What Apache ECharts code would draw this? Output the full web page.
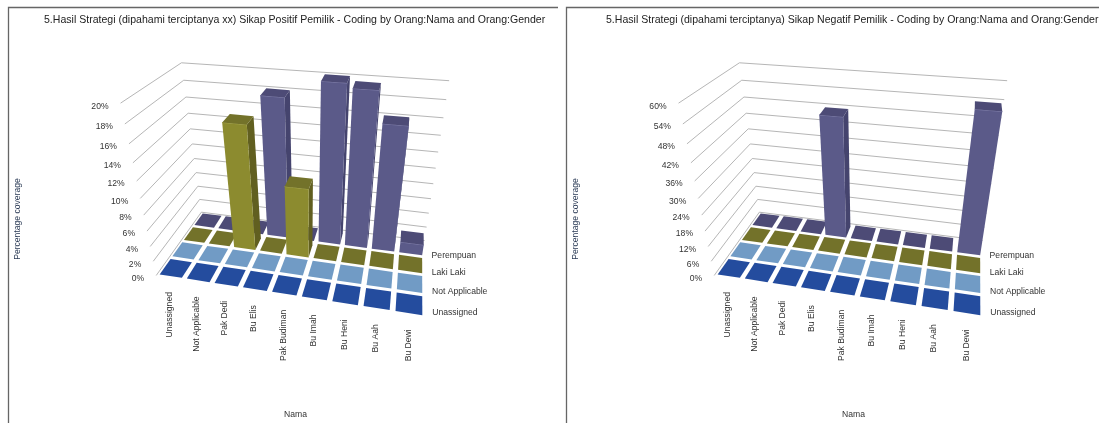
<!DOCTYPE html>
<html>
<head>
<meta charset="utf-8">
<style>html,body{margin:0;padding:0;background:#fff}#chart{width:1099px;height:423px}</style>
<script src="https://cdn.jsdelivr.net/npm/echarts@6/dist/echarts.min.js"></script>
</head>
<body>
<div id="chart"></div>
<script>
// Category and row names
const categories = ['Unassigned','Not Applicable','Pak Dedi','Bu Elis','Pak Budiman','Bu Imah','Bu Heni','Bu Aah','Bu Dewi'];
const rowNames = ['Unassigned','Not Applicable','Laki Laki','Perempuan'];

// Percentage coverage, Sikap Positif
const positiveUnassigned = [0,0,0,0,0,0,0,0,0];
const positiveNotApplicable = [0,0,0,0,0,0,0,0,0];
const positiveLakiLaki = [0,0,16,0,9.2,0,0,0,0];
const positivePerempuan = [0,0,0,18,0,20,19.5,16,1.5];

// Percentage coverage, Sikap Negatif
const negativeUnassigned = [0,0,0,0,0,0,0,0,0];
const negativeNotApplicable = [0,0,0,0,0,0,0,0,0];
const negativeLakiLaki = [0,0,0,0,0,0,0,0,0];
const negativePerempuan = [0,0,0,47.5,0,0,0,0,53.5];

// Value axis ticks
const positiveTicks = [0,2,4,6,8,10,12,14,16,18,20];
const negativeTicks = [0,6,12,18,24,30,36,42,48,54,60];

const titlePositive = '5.Hasil Strategi (dipahami terciptanya xx) Sikap Positif Pemilik - Coding by Orang:Nama and Orang:Gender';
const titleNegative = '5.Hasil Strategi (dipahami terciptanya) Sikap Negatif Pemilik - Coding by Orang:Nama and Orang:Gender';

// Box corners (category, depth, height) and where the camera places them on screen
const cameraAnchors = [
  [0,0,0, 156.5,275.5],[1,0,0, 425.5,317],[0,1,0, 201,212],[1,1,0, 424.5,241],
  [0,0,1, 120,103.5],[0,1,1, 182,62.7],[1,1,1, 449,80.5]
];

// Least-squares fit of a projective camera to the anchors
function fitCamera(pts){
  const rows=[],rhs=[];
  pts.forEach(([u,v,h,x0,y0])=>{
    const x=x0/100,y=y0/100;
    rows.push([u,v,h,1,0,0,0,0,-x*u,-x*v,-x*h]);rhs.push(x);
    rows.push([0,0,0,0,u,v,h,1,-y*u,-y*v,-y*h]);rhs.push(y);
  });
  const n=11,M=[];
  for(let i=0;i<n;i++){
    const r=new Array(n+1).fill(0);
    rows.forEach((row,k)=>{for(let j=0;j<n;j++)r[j]+=row[i]*row[j];r[n]+=row[i]*rhs[k];});
    M.push(r);
  }
  for(let i=0;i<n;i++){
    let p=i;
    for(let k=i+1;k<n;k++)if(Math.abs(M[k][i])>Math.abs(M[p][i]))p=k;
    [M[i],M[p]]=[M[p],M[i]];
    for(let k=0;k<n;k++){
      if(k===i)continue;
      const f=M[k][i]/M[i][i];
      for(let j=i;j<=n;j++)M[k][j]-=f*M[i][j];
    }
  }
  return M.map((r,i)=>r[n]/r[i]);
}
const cam=fitCamera(cameraAnchors);
function project(dx,u,v,h){
  const w=cam[8]*u+cam[9]*v+cam[10]*h+1;
  return [100*(cam[0]*u+cam[1]*v+cam[2]*h+cam[3])/w+dx,100*(cam[4]*u+cam[5]*v+cam[6]*h+cam[7])/w];
}

const FONT='"Liberation Sans", Arial, sans-serif';
const TEXT_COLOR='#333';
const LABEL_SIZE=8.6;
const CELL_FILL=0.82, ROW_FILL=0.85, BAR_DEPTH=0.85;
const rowColors=[
  {top:'#244c9e',front:'#2a55ab',side:'#1c3c7e',edge:'#4a72c0'},
  {top:'#719bc5',front:'#7ea6cd',side:'#5b82a8',edge:'#9dbddb'},
  {top:'#73722a',front:'#8c8b2f',side:'#615f20',edge:'#a5a448'},
  {top:'#4d4b76',front:'#5b5a89',side:'#45446e',edge:'#7c7ba8'}
];

function normalised(api,params,idx,val){
  const cs=params.coordSys,c=api.coord([idx,val]);
  return {u:(c[0]-cs.x)/cs.width,h:(cs.y+cs.height-c[1])/cs.height};
}
const poly=(points,fill)=>({type:'polygon',shape:{points},style:{fill,stroke:null},silent:true});

// One bar (or a flat cell when the value is zero) on the floor grid
function barRenderer(dx,row){
  return function(params,api){
    const idx=api.value(0),val=api.value(1);
    const {u,h}=normalised(api,params,idx,val);
    const half=api.size([1,0])[0]/params.coordSys.width*CELL_FILL/2;
    const v0=(row+(1-ROW_FILL)/2)/rowNames.length,cellBack=(row+1-(1-ROW_FILL)/2)/rowNames.length;
    const v1=val>0?v0+(cellBack-v0)*BAR_DEPTH:cellBack;
    const l=u-half,r=u+half,c=rowColors[row];
    const p=(a,b,z)=>project(dx,a,b,z);
    const children=[];
    if(val>0){
      const fl0=p(l,v0,0),fr0=p(r,v0,0),bl0=p(l,v1,0),br0=p(r,v1,0);
      const flh=p(l,v0,h),frh=p(r,v0,h),blh=p(l,v1,h),brh=p(r,v1,h);
      if(brh[0]>frh[0])children.push(poly([fr0,br0,brh,frh],c.side));
      if(blh[0]<flh[0])children.push(poly([fl0,bl0,blh,flh],c.side));
      children.push(poly([fl0,fr0,frh,flh],c.front));
      children.push({type:'polyline',shape:{points:[flh,frh]},style:{stroke:c.edge,lineWidth:1,fill:null},silent:true});
    }
    children.push(poly([p(l,v0,h),p(r,v0,h),p(r,v1,h),p(l,v1,h)],c.top));
    return {type:'group',children};
  };
}

// Wall gridline and percentage label for one tick
function wallRenderer(dx){
  return function(params,api){
    const {h}=normalised(api,params,0,api.value(1));
    const a=project(dx,0,0,h),b=project(dx,0,1,h),c=project(dx,1,1,h);
    return {type:'group',children:[
      {type:'polyline',shape:{points:[a,b,c]},style:{stroke:'#b6b6b6',lineWidth:1,fill:null},silent:true},
      {type:'text',x:a[0]-12,y:a[1]+3,silent:true,style:{text:api.value(1)+'%',align:'right',verticalAlign:'middle',fontSize:LABEL_SIZE,fontFamily:FONT,fill:TEXT_COLOR}}
    ]};
  };
}

// Upright name under each column
function categoryLabelRenderer(dx){
  return function(params,api){
    const idx=api.value(0);
    const {u}=normalised(api,params,idx,0);
    const a=project(dx,u,0,0);
    return {type:'text',x:a[0]-0.5,y:a[1]+14.5,rotation:Math.PI/2,silent:true,
      style:{text:categories[idx],align:'right',verticalAlign:'middle',fontSize:LABEL_SIZE,fontFamily:FONT,fill:TEXT_COLOR}};
  };
}

// Row name at the right end of the floor
function rowLabelRenderer(dx){
  return function(params,api){
    const row=params.dataIndex;
    const a=project(dx,1,(row+0.5)/rowNames.length,0);
    return {type:'text',x:a[0]+7,y:a[1]+7,silent:true,
      style:{text:rowNames[row],align:'left',verticalAlign:'middle',fontSize:LABEL_SIZE,fontFamily:FONT,fill:TEXT_COLOR}};
  };
}

const panels=[
  {dx:0,max:20,ticks:positiveTicks,rows:[positiveUnassigned,positiveNotApplicable,positiveLakiLaki,positivePerempuan]},
  {dx:558,max:60,ticks:negativeTicks,rows:[negativeUnassigned,negativeNotApplicable,negativeLakiLaki,negativePerempuan]}
];

const grid=[],xAxis=[],yAxis=[],series=[];
panels.forEach((pn,k)=>{
  grid.push({left:20+pn.dx,top:40,width:500,height:340,show:false});
  xAxis.push({type:'category',gridIndex:k,data:categories,show:false});
  yAxis.push({type:'value',gridIndex:k,min:0,max:pn.max,interval:pn.max/10,show:false});
  const base={type:'custom',xAxisIndex:k,yAxisIndex:k,clip:false,animation:false,silent:true,encode:{x:0,y:1},tooltip:{show:false}};
  series.push(Object.assign({},base,{name:'wall'+k,data:pn.ticks.map(t=>[0,t]),renderItem:wallRenderer(pn.dx)}));
  for(let r=rowNames.length-1;r>=0;r--){
    series.push(Object.assign({},base,{name:rowNames[r],data:pn.rows[r].map((v,i)=>[i,v]),renderItem:barRenderer(pn.dx,r)}));
  }
  series.push(Object.assign({},base,{name:'categories'+k,data:categories.map((c,i)=>[i,0]),renderItem:categoryLabelRenderer(pn.dx)}));
  series.push(Object.assign({},base,{name:'rows'+k,data:rowNames.map((c,i)=>[0,0]),renderItem:rowLabelRenderer(pn.dx)}));
});

const axisNames=panels.map(pn=>[
  {type:'text',x:18+pn.dx,y:219,rotation:Math.PI/2,silent:true,style:{text:'Percentage coverage',align:'center',verticalAlign:'middle',fontSize:LABEL_SIZE,fontFamily:FONT,fill:'#2a3a55'}},
  {type:'text',x:284+pn.dx,y:415,silent:true,style:{text:'Nama',align:'left',verticalAlign:'middle',fontSize:LABEL_SIZE,fontFamily:FONT,fill:TEXT_COLOR}}
]).flat();
const frames=[
  {type:'polyline',silent:true,shape:{points:[[8.5,423],[8.5,7.5],[558,7.5]]},style:{stroke:'#666',lineWidth:1.3,fill:null}},
  {type:'polyline',silent:true,shape:{points:[[566.5,423],[566.5,7.5],[1099,7.5]]},style:{stroke:'#666',lineWidth:1.3,fill:null}}
];

const chart=echarts.init(document.getElementById('chart'),null,{renderer:'canvas'});
chart.setOption({
  backgroundColor:'#fff',
  animation:false,
  title:[
    {text:titlePositive,left:44,top:15,padding:0,textStyle:{fontSize:10.55,fontWeight:'normal',fontFamily:FONT,color:'#222'}},
    {text:titleNegative,left:606,top:15,padding:0,textStyle:{fontSize:10.55,fontWeight:'normal',fontFamily:FONT,color:'#222'}}
  ],
  grid,xAxis,yAxis,series,
  graphic:{elements:frames.concat(axisNames)}
});
</script>
</body>
</html>
